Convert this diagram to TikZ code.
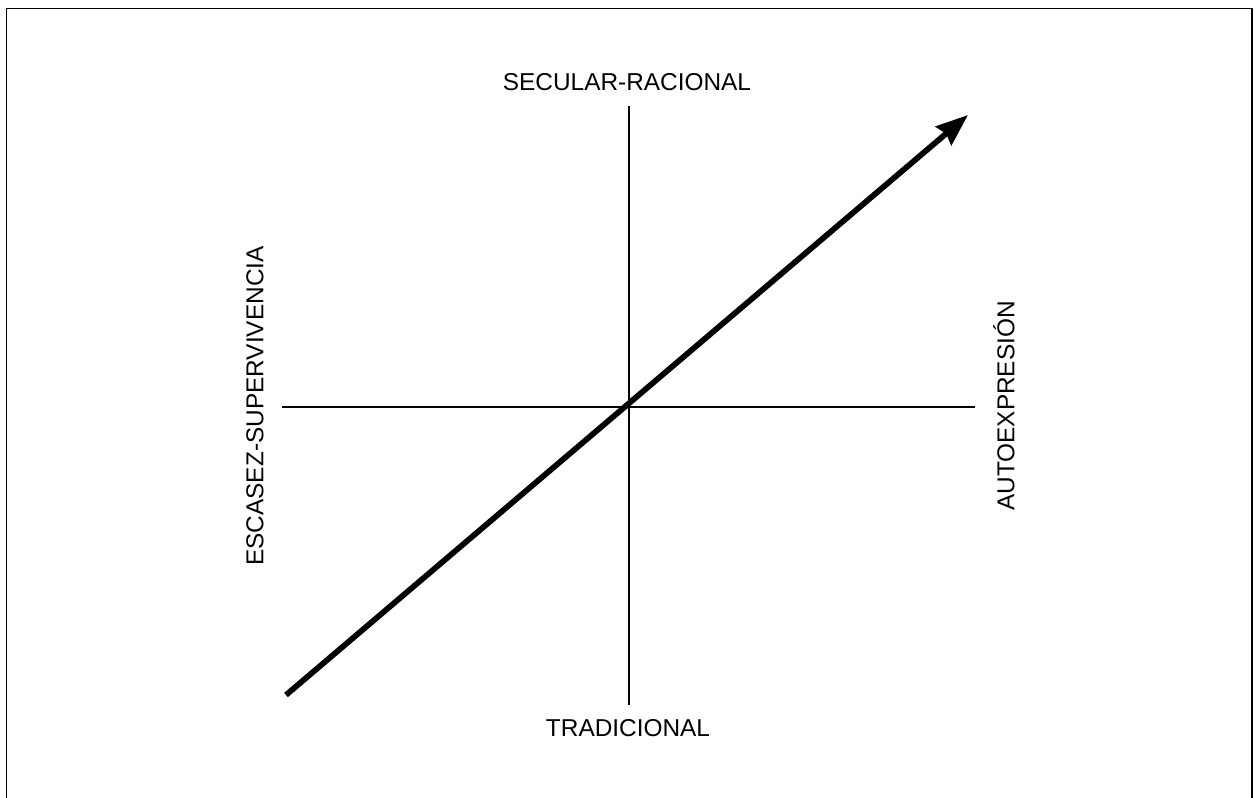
\documentclass[tikz,border=0pt]{standalone}
\usepackage{fontspec}
\setmainfont{Liberation Sans}
\usetikzlibrary{arrows.meta}
\begin{document}
\begin{tikzpicture}[x=0.75pt,y=-0.75pt,
  lbl/.style={inner sep=0pt,font=\fontsize{18.3}{22}\selectfont},
  axis/.style={line width=1pt},
  trend/.style={line width=4.3pt,-{Stealth[length=24pt,width=18pt,inset=2.5pt]}}]
\useasboundingbox (0,0) rectangle (1254,798);
\draw[line width=1.3pt] (6.5,810) -- (6.5,8.5) -- (1252,8.5) -- (1252,810);
\coordinate (top) at (629,106);
\coordinate (bot) at (629,705);
\coordinate (lft) at (282,407);
\coordinate (rgt) at (975,407);
\coordinate (as) at (286,695);
\coordinate (ae) at (968,115);
\draw[axis] (top) -- (bot);
\draw[axis] (lft) -- (rgt);
\draw[trend] (as) -- (ae);
\node[lbl] (sec) at (627,82) {SECULAR-RACIONAL};
\node[lbl] (tra) at (628,728.5) {TRADICIONAL};
\node[lbl,rotate=90] (esc) at (255,406) {ESCASEZ-SUPERVIVENCIA};
\node[lbl,rotate=90] (aut) at (1004,406) {AUTOEXPRESIÓN};
\end{tikzpicture}
\end{document}
